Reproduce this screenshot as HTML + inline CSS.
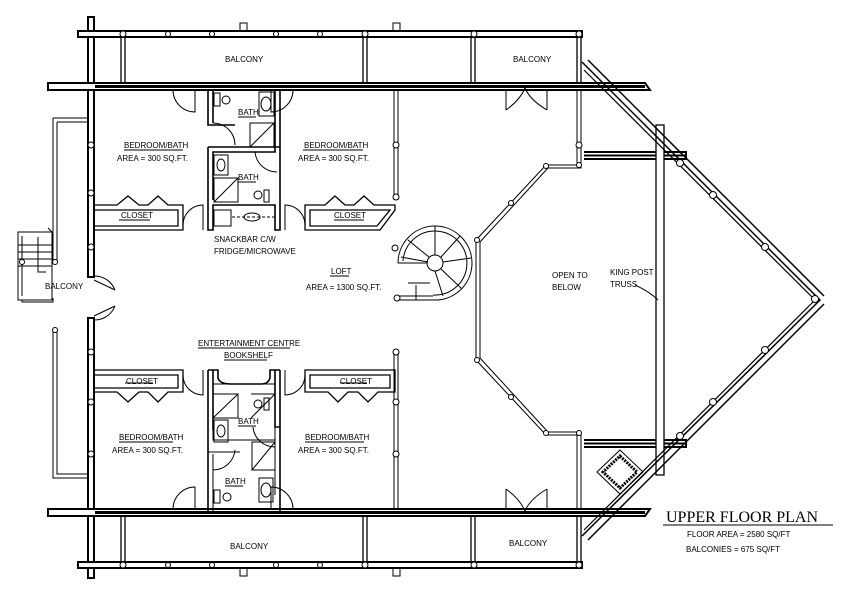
<!DOCTYPE html>
<html><head><meta charset="utf-8"><style>
html,body{margin:0;padding:0;background:#fff}
svg{display:block}
text{font-family:"Liberation Sans",sans-serif;font-size:8px;fill:#000}
</style></head><body>
<svg width="844" height="606" viewBox="0 0 844 606" xmlns="http://www.w3.org/2000/svg">
<g fill="none" stroke="#000" stroke-width="1">
<!-- vertical log left -->
<rect x="88" y="17" width="6" height="260" fill="#fff" stroke-width="2"/>
<rect x="88" y="318" width="6" height="260" fill="#fff" stroke-width="2"/>
<!-- top balcony beam -->
<rect x="78" y="31" width="504" height="6" fill="#fff" stroke-width="2"/>
<rect x="78" y="562" width="504" height="6" fill="#fff" stroke-width="2"/>
<rect x="240" y="23" width="7" height="8"/><rect x="393" y="23" width="7" height="8"/>
<rect x="240" y="568" width="7" height="8"/><rect x="393" y="568" width="7" height="8"/>
<!-- top wall -->
<path d="M48 83 H645 L650 90 H48 Z" fill="#fff" stroke-width="2"/>
<path d="M48 509 H650 L645 516 H48 Z" fill="#fff" stroke-width="2"/>
<line x1="95" y1="86.5" x2="645" y2="86.5" stroke-width="3"/>
<line x1="95" y1="512.5" x2="645" y2="512.5" stroke-width="3"/>
<!-- balcony posts -->
<g stroke-width="1.3">
<rect x="121" y="37" width="4" height="46"/><rect x="363" y="37" width="4" height="46"/>
<rect x="471" y="37" width="4" height="46"/><rect x="577" y="37" width="4" height="46"/>
<rect x="121" y="516" width="4" height="46"/><rect x="363" y="516" width="4" height="46"/>
<rect x="471" y="516" width="4" height="46"/><rect x="577" y="516" width="4" height="46"/>
</g>
<g fill="#fff">
<circle cx="123" cy="34" r="3"/><circle cx="168" cy="34" r="2.5"/><circle cx="212" cy="34" r="2.5"/><circle cx="276" cy="34" r="2.5"/><circle cx="320" cy="34" r="2.5"/><circle cx="365" cy="34" r="3"/><circle cx="474" cy="34" r="3"/><circle cx="579" cy="34" r="3"/>
<circle cx="123" cy="565" r="3"/><circle cx="168" cy="565" r="2.5"/><circle cx="212" cy="565" r="2.5"/><circle cx="276" cy="565" r="2.5"/><circle cx="320" cy="565" r="2.5"/><circle cx="365" cy="565" r="3"/><circle cx="474" cy="565" r="3"/><circle cx="579" cy="565" r="3"/>
</g>
<!-- left balcony -->
<path d="M53 118 H88 M57 122 H88 M53 118 V262 M57 122 V262"/>
<path d="M53 330 V478 H88 M57 330 V474 H88"/>
<path d="M18 232 H52 V300 H18 Z M22 236 V296 M52 232 L48 228 M18 245 H52 M18 252 H52 M18 259 H52 M18 266 H52 M38 237 V272 H46"/>
<path d="M22 300 V302 H53 M22 302 H53 V298" />
<circle cx="55" cy="262" r="2.5" fill="#fff"/><circle cx="55" cy="330" r="2.5" fill="#fff"/><circle cx="22" cy="262" r="2.5" fill="#fff"/>
<!-- left door -->
<path d="M94 280 L115 290 M94 316 L115 306 M115 290 A22 22 0 0 0 94 276 M115 306 A22 22 0 0 1 94 320"/>
<g fill="#fff"><circle cx="91" cy="145" r="3"/><circle cx="91" cy="193" r="3"/><circle cx="91" cy="247" r="3"/><circle cx="91" cy="352" r="3"/><circle cx="91" cy="402" r="3"/><circle cx="91" cy="454" r="3"/></g>
<!-- doors top wall -->
<path d="M173 90 A22 22 0 0 0 195 112 V90 M293 90 A22 22 0 0 1 271 112 V90"/>
<path d="M173 509 A22 22 0 0 1 195 487 V509 M293 509 A22 22 0 0 0 271 487 V509"/>
<path d="M506 90 V110 M547 90 V110 M506 110 Q520 100 525 88 Q530 100 547 110"/>
<path d="M506 509 V489 M547 509 V489 M506 489 Q520 499 525 511 Q530 499 547 489"/>
<!-- central top bath block -->
<path d="M208 90 V125 H235 M213 90 V123 M208 147 H280 V90 M275 90 V152 H213 V200 M208 147 V230 H213 V205 H275 V230 H280 V147" stroke-width="1.6"/>
<path d="M213 123 A22 22 0 0 1 235 145 M255 152 A22 22 0 0 0 277 172"/>
<rect x="214" y="93" width="6" height="13"/><circle cx="226" cy="100" r="4"/>
<rect x="259" y="92" width="15" height="24"/><ellipse cx="266" cy="104" rx="5" ry="7"/>
<path d="M250 123 H274 V147 H250 Z M250 147 L274 123"/>
<rect x="214" y="155" width="14" height="20"/><ellipse cx="221" cy="165" rx="4" ry="6"/>
<path d="M214 178 H238 V202 H214 Z M214 202 L238 178"/>
<circle cx="258" cy="195" r="4"/><rect x="264" y="190" width="5" height="12"/>
<rect x="214" y="210" width="17" height="16"/><ellipse cx="252" cy="217" rx="8" ry="4"/><line x1="232" y1="217" x2="274" y2="217" stroke-dasharray="3 2"/>
<!-- central bottom bath -->
<path d="M208 370 V512 M213 370 V430 M275 370 V427 H280 V512 M280 370 V427 M208 370 H218 V378 Q220 384 230 384 H262 Q268 384 270 378 V370 H280" stroke-width="1.6"/>
<path d="M213 384 H275 M213 430 V440 H275 M208 452 H240 M213 454 V512 M275 427 V495"/>
<path d="M213 394 H238 V418 H213 Z M213 418 L238 394 M251 394 H275 V418 M251 418 L275 394"/>
<rect x="214" y="420" width="14" height="22"/><ellipse cx="221" cy="431" rx="4" ry="6"/>
<path d="M252 442 H275 V470 H252 Z M252 470 L275 442"/>
<rect x="259" y="478" width="14" height="24"/><ellipse cx="266" cy="490" rx="5" ry="7"/>
<rect x="214" y="490" width="6" height="13"/><circle cx="227" cy="497" r="4"/>
<circle cx="258" cy="404" r="4"/><rect x="264" y="398" width="5" height="12"/>
<path d="M253 427 A22 22 0 0 0 275 447 M213 470 A22 22 0 0 0 235 450"/>
<!-- closets -->
<path d="M95 205 H117 L128 196 L139 205 H148 L158 196 L168 205 H183 V230 H95 M95 210 H178 V226 H95" stroke-width="1.3"/>
<path d="M95 370 H183 V392 H168 L158 402 L148 392 H139 L128 402 L117 392 H95 M95 375 H178 V388 H95" stroke-width="1.3"/>
<path d="M305 205 H325 L335 196 L345 205 H354 L364 196 L374 205 H395 L395 210 L380 230 H305 Z M310 210 H390 L377 226 H310 Z" stroke-width="1.3"/>
<path d="M305 370 H395 V392 H378 L368 402 L358 392 H348 L338 402 L328 392 H305 Z M310 375 H390 V388 H310 Z" stroke-width="1.3"/>
<path d="M183 225 A20 20 0 0 1 203 205 V230 M305 225 A20 20 0 0 0 285 205 V230 M183 375 A20 20 0 0 0 203 395 V370 M305 375 A20 20 0 0 1 285 395 V370"/>
<!-- loft dividers -->
<path d="M394 90 V200 M398 90 V200 M394 350 V509 M398 350 V509"/>
<g fill="#fff"><circle cx="396" cy="145" r="3"/><circle cx="396" cy="197" r="3"/><circle cx="396" cy="352" r="3"/><circle cx="396" cy="402" r="3"/><circle cx="396" cy="454" r="3"/></g>
<!-- spiral -->
<circle cx="435" cy="263" r="8"/>
<path d="M398 263 A37 37 0 1 1 433 300 M403 261 A32 32 0 1 1 433 295 M398 263 H427"/>
<path d="M435 255 V226 M441 257 L460 236 M443 262 L471 258 M441 269 L462 289 M435 271 L443 296 M429 257 L408 240 M428 262 L401 257"/>
<path d="M398 300 H433 M398 296 H433 M416 285 V300 M408 283 H430"/>
<circle cx="395" cy="248" r="3" fill="#fff"/><circle cx="397" cy="298" r="3" fill="#fff"/>
<!-- octagon -->
<path d="M577 90 V165 H546 L476 240 V360 L546 435 H577 V509 M581 90 V168 H548 L480 242 V358 L548 432 H581 V509"/>
<g fill="#fff"><circle cx="546" cy="166" r="2.5"/><circle cx="511" cy="203" r="2.5"/><circle cx="477" cy="240" r="2.5"/><circle cx="477" cy="360" r="2.5"/><circle cx="511" cy="397" r="2.5"/><circle cx="546" cy="433" r="2.5"/><circle cx="579" cy="165" r="2.5"/><circle cx="579" cy="433" r="2.5"/><circle cx="579" cy="145" r="3"/></g>
<!-- right horizontal walls -->
<path d="M584 152 H686 V159 H584 M584 155.5 H686" stroke-width="2"/>
<path d="M584 440 H686 V447 H584 M584 443.5 H686" stroke-width="2"/>
<!-- king post -->
<rect x="656" y="125" width="8" height="350" fill="#fff" stroke-width="1.3"/>
<!-- diagonals -->
<path d="M582 62 L820 300 L582 536 M588 60 L824 296 M588 540 L824 304" stroke-width="1.5"/>
<path d="M584 70 L815 300 L584 530" stroke-width="1.2"/>
<g fill="#fff"><circle cx="680" cy="163" r="3.5"/><circle cx="713" cy="195" r="3.5"/><circle cx="765" cy="247" r="3.5"/><circle cx="815" cy="299" r="3.5"/><circle cx="765" cy="350" r="3.5"/><circle cx="713" cy="402" r="3.5"/><circle cx="680" cy="436" r="3.5"/></g>
<!-- chimney -->
<path d="M620 450 L643 472 L620 494 L597 472 Z"/>
<path d="M620 456 L637 472 L620 488 L603 472 Z" stroke-width="3" stroke-dasharray="2 1"/>
<!-- title underline -->
<line x1="663" y1="525" x2="833" y2="525"/>
<!-- text underlines -->
<path d="M124 150 H183 M303 150 H363 M119 442 H173 M305 442 H364 M119 220 H150 M334 220 H364 M125 383 H153 M340 383 H367 M238 117 H256 M238 182 H256 M238 426 H256 M225 486 H243 M330 276 H349 M198 348 H290 M224 360 H267"/>
</g>
<g>
<text x="225" y="62">BALCONY</text>
<text x="513" y="62">BALCONY</text>
<text x="230" y="549">BALCONY</text>
<text x="509" y="546">BALCONY</text>
<text x="45" y="289">BALCONY</text>
<text x="124" y="148">BEDROOM/BATH</text><text x="117" y="161">AREA = 300 SQ.FT.</text>
<text x="304" y="148">BEDROOM/BATH</text><text x="298" y="161">AREA = 300 SQ.FT.</text>
<text x="119" y="440">BEDROOM/BATH</text><text x="112" y="453">AREA = 300 SQ.FT.</text>
<text x="305" y="440">BEDROOM/BATH</text><text x="298" y="453">AREA = 300 SQ.FT.</text>
<text x="121" y="218">CLOSET</text><text x="334" y="218">CLOSET</text>
<text x="126" y="384">CLOSET</text><text x="340" y="384">CLOSET</text>
<text x="238" y="115">BATH</text><text x="238" y="180">BATH</text>
<text x="238" y="424">BATH</text><text x="225" y="484">BATH</text>
<text x="214" y="242">SNACKBAR C/W</text><text x="214" y="254">FRIDGE/MICROWAVE</text>
<text x="331" y="274">LOFT</text><text x="306" y="290">AREA = 1300 SQ.FT.</text>
<text x="198" y="346">ENTERTAINMENT CENTRE</text><text x="224" y="358">BOOKSHELF</text>
<text x="552" y="278">OPEN TO</text><text x="552" y="290">BELOW</text>
<text x="610" y="275">KING POST</text><text x="610" y="287">TRUSS</text>
<text x="666" y="522" style="font-family:'Liberation Serif',serif;font-size:16px">UPPER FLOOR PLAN</text>
<text x="687" y="537">FLOOR AREA = 2580 SQ/FT</text>
<text x="686" y="552">BALCONIES  =  675 SQ/FT</text>
</g>
<path d="M635 285 Q650 292 658 300" fill="none" stroke="#000"/>
</svg>
</body></html>
